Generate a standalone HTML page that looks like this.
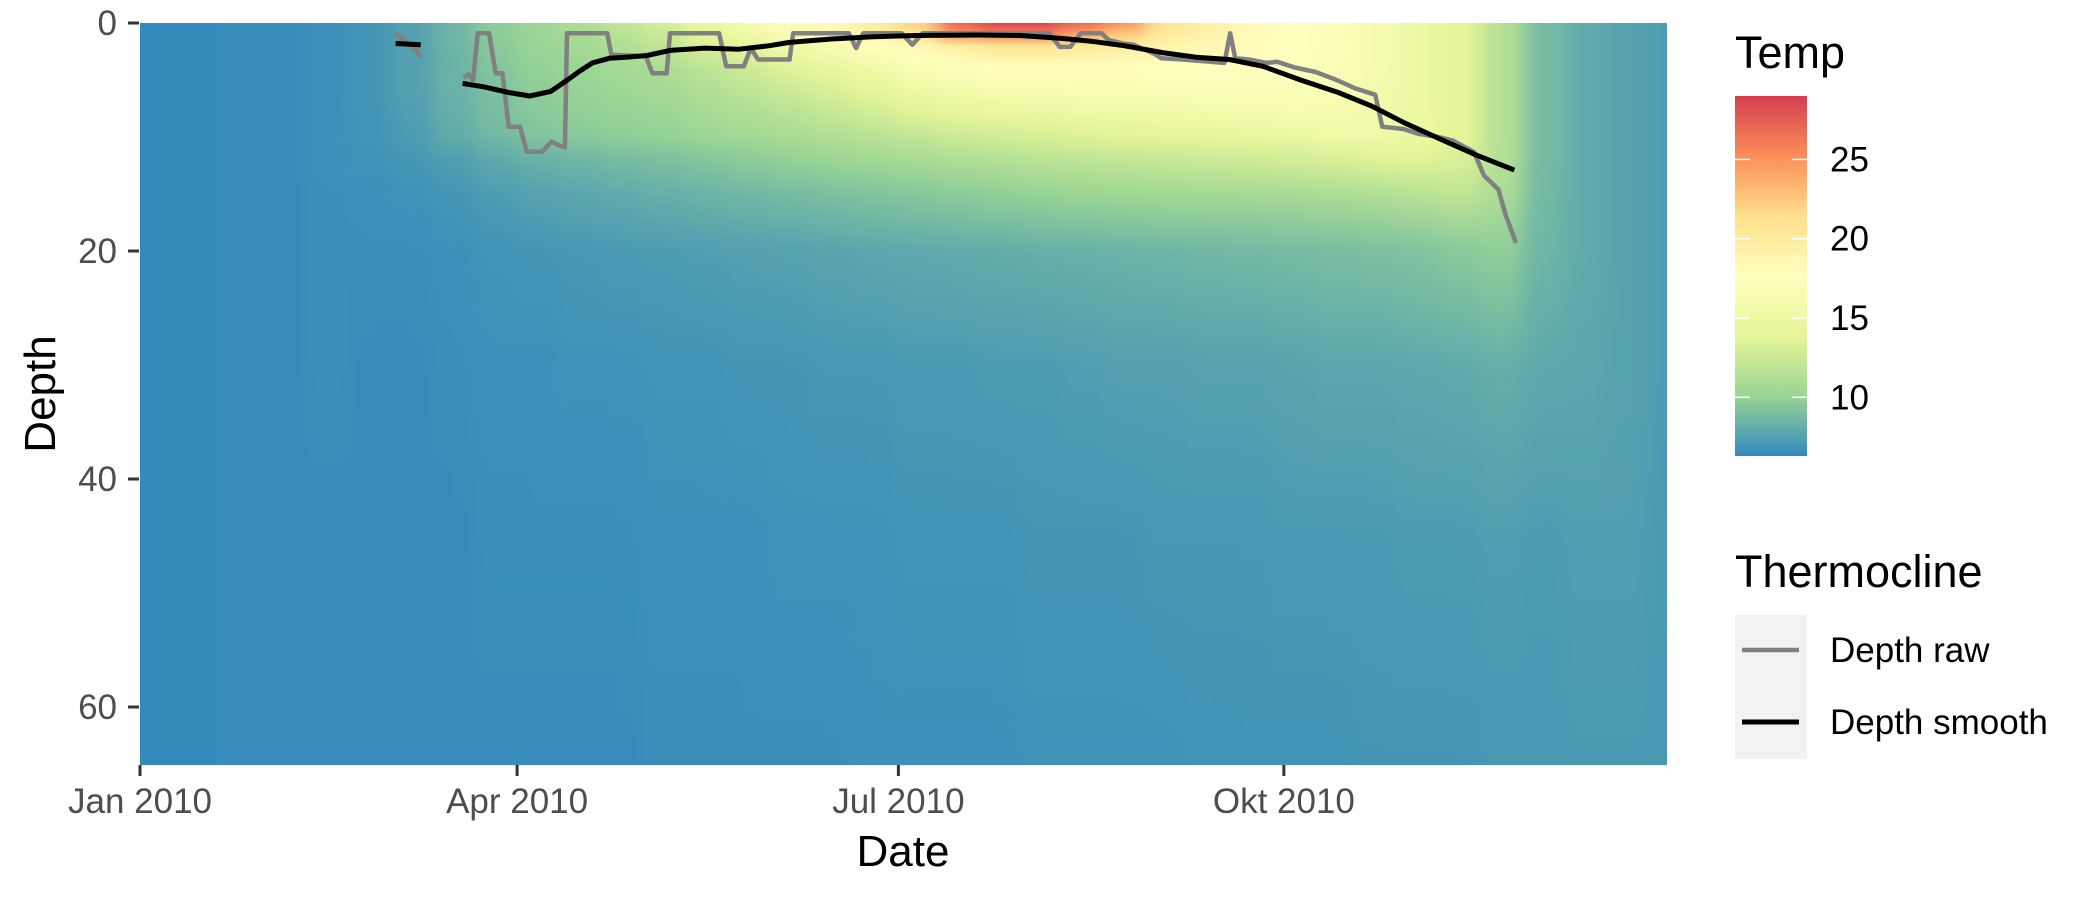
<!DOCTYPE html>
<html><head><meta charset="utf-8"><style>
html,body{margin:0;padding:0;background:#fff;}
svg{display:block;font-family:"Liberation Sans",Arial,sans-serif;}
</style></head><body>
<svg id="chart" width="2100" height="900" viewBox="0 0 2100 900">
<defs id="defs">
<clipPath id="plotClip"><rect x="140" y="23" width="1527" height="742"/></clipPath>
<filter id="hblur" filterUnits="userSpaceOnUse" x="0" y="0" width="2100" height="900"><feGaussianBlur stdDeviation="10 0"/></filter>
</defs>
<g clip-path="url(#plotClip)"><g id="heat" filter="url(#hblur)"></g></g>
<g id="lines"></g>
<g id="axes"></g>
<g id="legend"></g>
</svg>
<script>
// ---- data ----
const depthLevels = [0,1,2,3,4,6,8,10,12,15,20,30,45,65];
const colDays = [0,10,20,30,40,50,60,70,80,90,100,110,120,130,140,150,160,170,180,190,200,210,220,230,240,250,260,270,280,290,300,310,320,330,340,350,360];
const tempProfiles = [
[6.4,6.4,6.4,6.4,6.4,6.4,6.4,6.4,6.4,6.4,6.4,6.4,6.4,6.4],
[6.4,6.4,6.4,6.4,6.4,6.4,6.4,6.4,6.4,6.4,6.4,6.4,6.4,6.4],
[6.5,6.5,6.5,6.5,6.5,6.5,6.5,6.5,6.5,6.5,6.5,6.5,6.5,6.5],
[6.5,6.5,6.5,6.5,6.5,6.5,6.5,6.5,6.5,6.5,6.5,6.5,6.5,6.5],
[6.7,6.7,6.7,6.7,6.7,6.7,6.7,6.7,6.7,6.6,6.6,6.6,6.5,6.5],
[7.0,7.0,7.0,7.0,7.0,7.0,6.9,6.9,6.8,6.7,6.6,6.5,6.5,6.5],
[7.5,7.5,7.5,7.5,7.5,7.5,7.4,7.3,7.0,6.8,6.6,6.5,6.5,6.5],
[8.5,8.5,8.5,8.4,8.4,8.3,8.2,8.0,7.4,7.0,6.7,6.6,6.5,6.5],
[9.6,9.6,9.5,9.4,9.3,9.1,8.9,8.6,7.9,7.3,6.9,6.7,6.6,6.5],
[10.3,10.2,10.1,10,9.9,9.7,9.5,9.2,8.3,7.6,7.0,6.7,6.6,6.5],
[11,10.8,10.6,10.4,10.2,10,9.8,9.5,8.5,7.8,7.1,6.8,6.6,6.5],
[12,11.6,11.2,10.9,10.6,10.3,10,9.7,8.8,8.0,7.2,6.8,6.6,6.5],
[13,12.5,12,11.5,11,10.6,10.2,9.9,9.0,8.2,7.3,6.9,6.7,6.6],
[14.5,14,13.3,12.5,11.8,11.2,10.7,10.2,9.3,8.4,7.4,6.9,6.7,6.6],
[15.8,15.2,14.3,13.4,12.6,11.8,11.1,10.5,9.6,8.6,7.5,7.0,6.7,6.6],
[17,16.5,15.5,14.5,13.6,12.5,11.6,10.8,9.9,8.8,7.6,7.0,6.8,6.6],
[18.5,17.5,16.5,15.5,14.5,13.2,12.2,11.2,10.2,9.0,7.7,7.1,6.8,6.6],
[20,19,17.5,16.5,15.5,14,12.8,11.6,10.5,9.2,7.8,7.1,6.8,6.7],
[22,20.5,18.5,17.5,16.5,15,13.5,12,10.8,9.4,7.9,7.2,6.9,6.7],
[27,25,20,18.5,17.3,15.6,14,12.5,11.1,9.6,8.0,7.2,6.9,6.7],
[28.5,26,21,19,17.8,16,14.4,12.8,11.4,9.8,8.1,7.3,6.9,6.7],
[28.5,26,21,19,18,16.3,14.7,13.1,11.7,10,8.2,7.3,7.0,6.8],
[27,24,20.5,19,18,16.5,15,13.4,11.9,10.2,8.3,7.4,7.0,6.8],
[25,22.5,20,18.7,17.8,16.6,15.2,13.7,12.1,10.4,8.4,7.5,7.0,6.8],
[21,20,19,18.5,17.7,16.7,15.4,13.9,12.3,10.5,8.5,7.5,7.1,6.8],
[19.5,19.2,18.6,18.2,17.6,16.8,15.6,14.1,12.5,10.6,8.6,7.6,7.1,6.9],
[18.3,18.2,18,17.8,17.4,16.8,15.8,14.4,12.7,10.7,8.7,7.6,7.1,6.9],
[17.6,17.6,17.5,17.4,17.2,16.8,16,14.8,12.9,10.8,8.8,7.7,7.2,6.9],
[17,17,17,16.9,16.8,16.6,16.1,15.2,13.2,11.0,8.9,7.8,7.2,6.9],
[16,16,16,16,16,15.9,15.7,15.2,13.5,11.3,9.0,7.8,7.2,7.0],
[15,15,15,15,15,15,14.9,14.7,13.6,11.6,9.2,7.9,7.3,7.0],
[14,14,14,14,14,14,14,13.9,13.2,12,9.5,8.0,7.3,7.0],
[11.5,11.5,11.5,11.5,11.5,11.5,11.5,11.5,11.4,11,9.8,8.2,7.4,7.1],
[8.8,8.8,8.8,8.8,8.8,8.8,8.8,8.8,8.8,8.7,8.5,7.9,7.3,7.1],
[8.0,8.0,8.0,8.0,8.0,8.0,8.0,8.0,8.0,8.0,8.0,7.8,7.4,7.2],
[7.6,7.6,7.6,7.6,7.6,7.6,7.6,7.6,7.6,7.6,7.6,7.6,7.4,7.2],
[7.3,7.3,7.3,7.3,7.3,7.3,7.3,7.3,7.3,7.3,7.3,7.3,7.2,7.1]
];
const rawSeg1Days = [61,62,64,66,67];
const rawSeg1Depth = [0.9,1.2,1.8,2.4,3.0];
const rawDays = [77.2,78.5,79.5,80.6,83.3,84.9,86.5,88,90.7,92.3,96,98.2,99.8,101.4,101.9,111.5,112.5,120.7,122.3,125.7,126.5,138.2,139.9,144.1,145.8,147.5,155,155.9,169.2,170.9,172.6,181.8,184.3,186.8,217,219.5,222,224.5,229.5,231.2,234.6,237.1,242.1,243.8,248.8,255.5,258.8,260.2,261.4,264.7,268.9,271.4,275.6,280.6,285.6,289.8,294.8,296.5,301.5,304.9,309.9,313.2,318.3,320.8,324.2,325.9,328.4];
const rawDepth = [4.8,4.5,5.0,0.9,0.9,4.4,4.4,9.1,9.1,11.3,11.3,10.4,10.7,10.9,0.9,0.9,2.8,2.9,4.4,4.4,0.9,0.9,3.8,3.8,2.2,3.2,3.2,0.9,0.9,2.2,0.9,0.9,1.9,0.9,0.9,2.1,2.1,0.9,0.9,1.5,1.8,1.9,2.7,3.1,3.2,3.4,3.5,0.9,3.1,3.2,3.5,3.4,3.9,4.3,5.0,5.7,6.3,9.1,9.3,9.7,10.0,10.3,11.3,13.4,14.6,16.8,19.3];
const smoothSeg1Days = [61,67];
const smoothSeg1Depth = [1.8,1.9];
const smoothDays = [77,82,88,93,98,102,105,108,112,116,121,126.5,134.8,143,150,155,165,175,185,200,210,220,227,235,244,252,260,268,277,286,294,302,311,319,328];
const smoothDepth = [5.3,5.6,6.1,6.4,6.0,5.0,4.2,3.5,3.1,3.0,2.85,2.4,2.2,2.3,2.0,1.7,1.4,1.2,1.1,1.05,1.1,1.35,1.6,2.0,2.6,3.0,3.2,3.8,5.0,6.1,7.3,8.8,10.3,11.6,12.9];
const yTicks = [0,20,40,60];
const xTickDays = [0,90,181,273];
const xTickLabels = ["Jan 2010","Apr 2010","Jul 2010","Okt 2010"];
const legendTicks = [10,15,20,25];

// ---- scales ----
const X0=140, PX_PER_DAY=4.19, Y0=23, PX_PER_M=11.4, PLOT_R=1667, PLOT_B=765;
const xS = d => X0 + d*PX_PER_DAY;
const yS = m => Y0 + m*PX_PER_M;
const tMin=6.3, tMax=29;
const stops=["#3288bd","#99d594","#e6f598","#ffffbf","#fee08b","#fc8d59","#d53e4f"];
function hex(c){return [parseInt(c.slice(1,3),16),parseInt(c.slice(3,5),16),parseInt(c.slice(5,7),16)];}
function color(t){
  let f=(t-tMin)/(tMax-tMin); f=Math.max(0,Math.min(1,f));
  const p=f*(stops.length-1); const i=Math.min(stops.length-2,Math.floor(p)); const r=p-i;
  const a=hex(stops[i]), b=hex(stops[i+1]);
  return "rgb("+a.map((v,k)=>Math.round(v+(b[k]-v)*r)).join(",")+")";
}
const NS="http://www.w3.org/2000/svg";
function mk(tag,attrs,parent){const e=document.createElementNS(NS,tag);for(const k in attrs)e.setAttribute(k,attrs[k]);parent.appendChild(e);return e;}
const defs=document.getElementById('defs');
const heat=document.getElementById('heat');
const maxDepth=(PLOT_B-Y0)/PX_PER_M;

colDays.forEach((d,i)=>{
  const g=mk('linearGradient',{id:'col'+i,x1:0,y1:0,x2:0,y2:1},defs);
  depthLevels.forEach((z,j)=>{mk('stop',{offset:Math.min(1,z/maxDepth),'stop-color':color(tempProfiles[i][j])},g);});
  const x1=i===0?0:xS(d), x2=i<colDays.length-1?xS(colDays[i+1]):1800;
  const r=mk('rect',{x:x1,y:Y0,width:x2-x1+0.6,height:PLOT_B-Y0,fill:'url(#col'+i+')'},heat);
  
  
});

const lines=document.getElementById('lines');
function path(days,depths,stroke,w,name){
  const d=days.map((v,i)=>(i?'L':'M')+xS(v).toFixed(1)+','+yS(depths[i]).toFixed(1)).join('');
  const p=mk('path',{d:d,fill:'none',stroke:stroke,'stroke-width':w,'stroke-linejoin':'round'},lines);
  
  
}
path(rawSeg1Days,rawSeg1Depth,'#808080',4.5,'depth-raw-line-early');
path(rawDays,rawDepth,'#808080',4.5,'depth-raw-line');
path(smoothSeg1Days,smoothSeg1Depth,'#000',5,'depth-smooth-line-early');
path(smoothDays,smoothDepth,'#000',5,'depth-smooth-line');

const axes=document.getElementById('axes');
yTicks.forEach(v=>{
  const y=yS(v);
  const t=mk('line',{x1:128,x2:139,y1:y,y2:y,stroke:'#333','stroke-width':3},axes);
  
  
  const l=mk('text',{x:117,y:y+12,'text-anchor':'end','font-size':35,fill:'#4d4d4d'},axes);
  l.textContent=v;
  
  
});
xTickDays.forEach((d,i)=>{
  const x=xS(d);
  const t=mk('line',{x1:x,x2:x,y1:765,y2:776,stroke:'#333','stroke-width':3},axes);
  
  
  const l=mk('text',{x:x,y:813,'text-anchor':'middle','font-size':35,fill:'#4d4d4d'},axes);
  l.textContent=xTickLabels[i];
  
  
});

const legend=document.getElementById('legend');
const lg=mk('linearGradient',{id:'lgd',x1:0,y1:1,x2:0,y2:0},defs);
stops.forEach((c,i)=>mk('stop',{offset:i/(stops.length-1),'stop-color':c},lg));
const cbTop=96, cbBot=456;
const cb=mk('rect',{x:1735,y:cbTop,width:72,height:cbBot-cbTop,fill:'url(#lgd)'},legend);


const lyS=t=>cbBot-(t-tMin)/(tMax-tMin)*(cbBot-cbTop);
legendTicks.forEach(v=>{
  const y=lyS(v);
  mk('line',{x1:1735,x2:1750,y1:y,y2:y,stroke:'#fff','stroke-width':1.5},legend);
  mk('line',{x1:1792,x2:1807,y1:y,y2:y,stroke:'#fff','stroke-width':1.5},legend);
  const l=mk('text',{x:1830,y:y+12,'font-size':35,fill:'#000'},legend);
  l.textContent=v;
  
  
});
</script>
<script>
const svg=document.getElementById('chart');
svg.insertAdjacentHTML('beforeend',`
<text x="40" y="394" transform="rotate(-90 40 394)" dy="15" text-anchor="middle" font-size="44" fill="#000">Depth</text>
<text x="903" y="866" text-anchor="middle" font-size="44" fill="#000">Date</text>
<text x="1735" y="68" font-size="45" fill="#000">Temp</text>
<text x="1735" y="587" font-size="45" fill="#000">Thermocline</text>
<rect x="1735" y="615" width="72" height="144" fill="#f2f2f2"/>
<line x1="1742" x2="1799" y1="650" y2="650" stroke="#808080" stroke-width="4.5"/>
<line x1="1742" x2="1799" y1="722" y2="722" stroke="#000" stroke-width="5"/>
<text x="1830" y="662" font-size="35" fill="#000">Depth raw</text>
<text x="1830" y="734" font-size="35" fill="#000">Depth smooth</text>
`);
</script>
</body></html>
